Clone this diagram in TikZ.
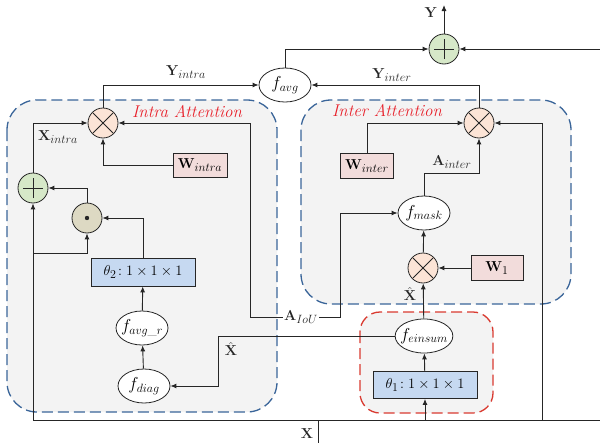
\documentclass[tikz,border=0pt]{standalone}
\usepackage{amsmath}
\usetikzlibrary{arrows.meta,shapes.geometric}
\DeclareMathSizes{16}{16}{12.5}{9}
\DeclareMathSizes{15}{15}{11.5}{9}
\definecolor{panelbg}{HTML}{F3F3F3}
\definecolor{bluedash}{HTML}{3A6599}
\definecolor{reddash}{HTML}{D93A30}
\definecolor{redtxt}{HTML}{E8202A}
\definecolor{peach}{HTML}{FCE4D6}
\definecolor{greenc}{HTML}{D6E8C8}
\definecolor{tanc}{HTML}{DDD9C3}
\definecolor{bluebox}{HTML}{C6D9F1}
\definecolor{pinkbox}{HTML}{F2DCDB}
\definecolor{ink}{HTML}{262626}
\tikzset{
  ln/.style={draw=ink, line width=0.9pt},
  arr/.style={ln, -{Latex[length=6pt,width=5pt]}},
  opc/.style={circle, draw=ink, line width=0.8pt, minimum size=30pt, inner sep=0pt},
  mulc/.style={opc, fill=peach, path picture={
      \draw[ink, line width=0.8pt] ([shift={(-10pt,-10pt)}]path picture bounding box.center) -- ++(20pt,20pt);
      \draw[ink, line width=0.8pt] ([shift={(-10pt,10pt)}]path picture bounding box.center) -- ++(20pt,-20pt);}},
  plusc/.style={opc, fill=greenc, path picture={
      \draw[ink, line width=0.8pt] ([shift={(-10pt,0pt)}]path picture bounding box.center) -- ++(20pt,0pt);
      \draw[ink, line width=0.8pt] ([shift={(0pt,-10pt)}]path picture bounding box.center) -- ++(0pt,20pt);}},
  dotcirc/.style={opc, fill=tanc, path picture={
      \fill[ink] (path picture bounding box.center) circle (2.2pt);}},
  fel/.style={ellipse, draw=ink, line width=0.8pt, fill=white, inner sep=-3.5pt, minimum width=52pt, minimum height=34pt, font=\fontsize{16}{18}\selectfont},
  thbox/.style={rectangle, draw=ink, line width=0.8pt, fill=bluebox, inner sep=0pt, minimum width=104pt, minimum height=28pt, font=\fontsize{15}{17}\selectfont},
  wbox/.style={rectangle, draw=ink, line width=0.8pt, fill=pinkbox, inner sep=0pt, minimum width=53pt, minimum height=25pt, font=\fontsize{15}{17}\selectfont},
  lbl/.style={text=ink, inner sep=1pt, font=\fontsize{15}{17}\selectfont},
  panel/.style={fill=panelbg, line width=1.3pt, dash pattern=on 11pt off 5pt},
  ttl/.style={text=redtxt, font=\fontsize{17}{19}\selectfont\itshape}
}
\begin{document}
\begin{tikzpicture}[x=1pt,y=-1pt]
\useasboundingbox (0,0) rectangle (600,447);
% panels
\draw[panel, draw=bluedash, rounded corners=30pt] (7,100) rectangle (277,412);
\draw[panel, draw=bluedash, rounded corners=30pt] (301,100) rectangle (571,304);
\draw[panel, draw=reddash, rounded corners=20pt] (360,312) rectangle (493,413);
\node[ttl] (tintra) at (187,112) {Intra Attention};
\node[ttl] (tinter) at (387,111) {Inter Attention};
% nodes
\node[plusc] (tplus) at (444,49) {};
\node[fel] (favg) at (285,85) {$f_{avg}$};
\node[mulc] (mia) at (103,123) {};
\node[mulc] (mie) at (479,123) {};
\node[wbox, minimum width=54pt, minimum height=24pt] (wintra) at (200,165) {$\mathbf{W}_{intra}$};
\node[wbox] (winter) at (367,166) {$\mathbf{W}_{inter}$};
\node[plusc] (pplus) at (33,188) {};
\node[dotcirc] (dotc) at (87,218) {};
\node[thbox] (th2) at (143,272) {$\theta_2\!:1\times1\times1$};
\node[fel] (favgr) at (142,328) {$f_{avg\_r}$};
\node[fel] (fdiag) at (144,386) {$f_{diag}$};
\node[fel] (fmask) at (424,213) {$f_{mask}$};
\node[mulc] (m1) at (423,268) {};
\node[wbox, minimum width=52pt] (w1) at (497,268) {$\mathbf{W}_1$};
\node[fel, minimum width=54pt] (feinsum) at (424,336) {$f_{einsum}$};
\node[thbox, minimum height=27pt] (th1) at (425,385) {$\theta_1\!:1\times1\times1$};
\node[lbl] (aiou) at (301,317) {$\mathbf{A}_{IoU}$};
% coordinates
\coordinate (bl) at (33,420);
\coordinate (br) at (600,420);
\coordinate (bj) at (33,253);
\coordinate (rr) at (600,49);
\coordinate (ytop) at (444,5);
\coordinate (ai) at (479,173);
\coordinate (rv) at (542,420);
\coordinate (rvt) at (542,123);
\coordinate (tb) at (425,420);
\coordinate (xh) at (218,336);
\coordinate (iouL) at (250,317);
\coordinate (iouR) at (340,317);
\coordinate (xt1) at (318,420);
\coordinate (xt2) at (318,443);
% connectors
\draw[ln] (bl) -- (br);
\draw[ln] (xt1) -- (xt2);
\draw[arr] (bl) -- (pplus);
\draw[arr] (bj) -| (dotc);
\draw[arr] (dotc.north) |- (pplus.east);
\draw[arr] (th2.north) |- (dotc.east);
\draw[arr] (favgr) -- (th2);
\draw[arr] (fdiag) -- (favgr);
\draw[arr] (pplus.north) |- (mia.west);
\draw[arr] (wintra.west) -| (mia.south);
\draw[arr] (mia.north) |- (favg.west);
\draw[arr] (mie.north) |- (favg.east);
\draw[arr] (favg.north) |- (tplus.west);
\draw[arr] (rr) -- (tplus.east);
\draw[arr] (tplus.north) -- (ytop);
\draw[arr] (winter.north) |- (mie.west);
\draw[arr] (fmask.north) |- (ai) -- (mie.south);
\draw[arr] (rv) -- (rvt) -- (mie.east);
\draw[arr] (m1) -- (fmask);
\draw[arr] (w1) -- (m1);
\draw[arr] (feinsum) -- (m1);
\draw[arr] (th1) -- (feinsum);
\draw[arr] (tb) -- (th1);
\draw[arr] (feinsum.west) -- (xh) |- (fdiag.east);
\draw[arr] (aiou.west) -- (iouL) |- (mia.east);
\draw[arr] (aiou.east) -- (iouR) |- (fmask.west);
% labels
\node[lbl] (lxintra) at (58,137) {$\mathbf{X}_{intra}$};
\node[lbl] (lyintra) at (186,72) {$\mathbf{Y}_{intra}$};
\node[lbl] (lyinter) at (392,75) {$\mathbf{Y}_{inter}$};
\node[lbl] (lainter) at (452,162) {$\mathbf{A}_{inter}$};
\node[lbl] (lxh1) at (410,294) {$\hat{\mathbf{X}}$};
\node[lbl] (lxh2) at (231,349) {$\hat{\mathbf{X}}$};
\node[lbl] (ly) at (431,13) {$\mathbf{Y}$};
\node[lbl] (lx) at (307,434) {$\mathbf{X}$};
\end{tikzpicture}
\end{document}
